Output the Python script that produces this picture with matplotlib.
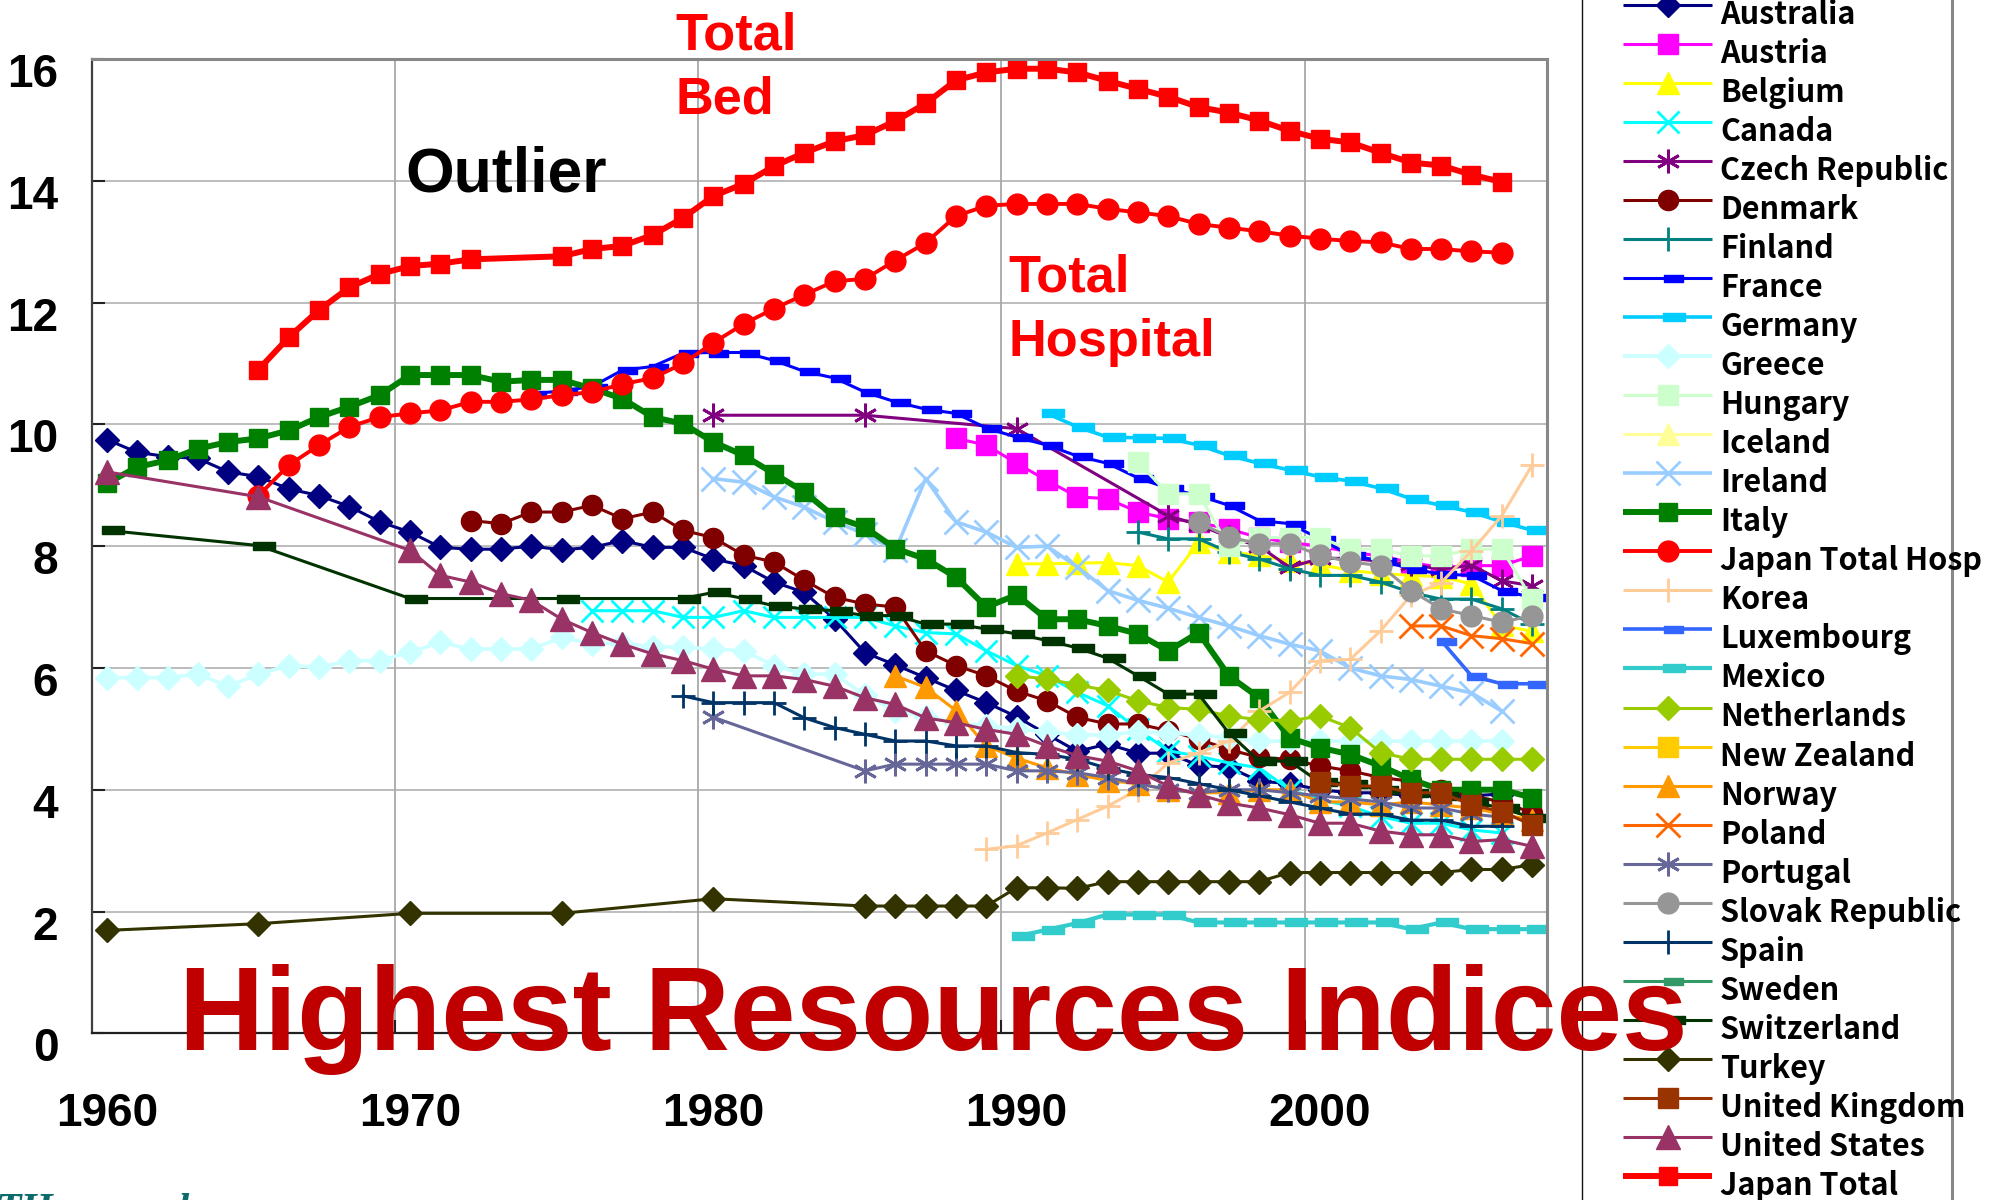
import matplotlib.pyplot as plt
import matplotlib.transforms as mtransforms
from matplotlib.patches import Rectangle

# hospital beds per 1000 population
australia_years = list(range(1960, 2007))
australia = [9.75, 9.54, 9.47, 9.44, 9.22, 9.14, 8.94, 8.83, 8.65, 8.40,
             8.23, 7.98, 7.95, 7.95, 8.00, 7.94, 7.98, 8.09, 7.98, 7.98,
             7.79, 7.68, 7.41, 7.24, 6.80, 6.25, 6.05, 5.84, 5.63, 5.43,
             5.20, 4.91, 4.63, 4.75, 4.60, 4.60, 4.40, 4.37, 4.14, 4.10,
             4.00, 3.95, 3.95, 3.90, 3.90, 3.90, 3.93]

austria_years = list(range(1988, 2008))
austria = [9.77, 9.66, 9.36, 9.08, 8.81, 8.78, 8.56, 8.45, 8.39, 8.28,
           8.14, 8.06, 8.00, 7.90, 7.84, 7.73, 7.65, 7.68, 7.68, 7.84]

belgium_years = list(range(1990, 2008))
belgium = [7.71, 7.71, 7.72, 7.73, 7.68, 7.41, 8.06, 7.90, 7.85, 7.75,
           7.70, 7.60, 7.55, 7.52, 7.50, 7.38, 6.70, 6.60]

canada_years = list(range(1976, 2007))
canada = [6.94, 6.94, 6.94, 6.83, 6.83, 6.94, 6.83, 6.83, 6.83, 6.83,
          6.69, 6.58, 6.56, 6.28, 6.04, 5.87, 5.60, 5.38, 4.99, 4.64,
          4.55, 4.44, 4.36, 4.00, 3.84, 3.73, 3.56, 3.45, 3.45, 3.34, 3.29]

czech_years = [1980, 1985, 1990] + list(range(1995, 2008))
czech = [10.15, 10.15, 9.93, 8.50, 8.35, 8.15, 8.00, 7.65, 7.80, 7.80,
         7.75, 7.70, 7.62, 7.69, 7.43, 7.35]

denmark_years = list(range(1972, 2008))
denmark = [8.42, 8.37, 8.56, 8.56, 8.67, 8.45, 8.56, 8.26, 8.14, 7.85,
           7.74, 7.44, 7.16, 7.05, 7.00, 6.28, 6.04, 5.87, 5.62, 5.46,
           5.19, 5.08, 5.08, 4.97, 4.83, 4.66, 4.53, 4.50, 4.39, 4.31,
           4.20, 4.14, 4.00, 3.90, 3.80, 3.62]

finland_years = list(range(1994, 2008))
finland = [8.23, 8.12, 8.12, 7.90, 7.79, 7.63, 7.52, 7.52, 7.41, 7.24,
           7.13, 7.13, 6.97, 6.72]

france_years = list(range(1974, 2008))
france = [10.50, 10.55, 10.62, 10.89, 10.95, 11.17, 11.18, 11.18, 11.05, 10.87,
          10.76, 10.53, 10.37, 10.25, 10.18, 9.94, 9.79, 9.66, 9.48, 9.36,
          9.12, 8.95, 8.83, 8.67, 8.42, 8.37, 8.12, 7.85, 7.76, 7.63,
          7.54, 7.52, 7.27, 7.16]

germany_years = list(range(1991, 2008))
germany = [10.18, 9.96, 9.79, 9.78, 9.77, 9.66, 9.49, 9.36, 9.25, 9.14,
           9.07, 8.95, 8.78, 8.67, 8.56, 8.40, 8.26]

greece_years = list(range(1960, 2007))
greece = [5.84, 5.84, 5.84, 5.90, 5.70, 5.90, 6.04, 6.01, 6.12, 6.12,
          6.26, 6.42, 6.31, 6.31, 6.31, 6.50, 6.40, 6.40, 6.35, 6.34,
          6.31, 6.28, 6.04, 5.90, 5.90, 5.55, 5.30, 5.20, 5.10, 5.05,
          5.00, 4.95, 4.90, 4.90, 4.95, 4.93, 4.90, 4.85, 4.80, 4.80,
          4.80, 4.80, 4.80, 4.80, 4.80, 4.80, 4.80]

hungary_years = list(range(1994, 2008))
hungary = [9.38, 8.86, 8.86, 8.00, 8.14, 8.14, 8.14, 7.95, 7.95, 7.84,
           7.84, 7.95, 7.95, 7.13]

ireland_years = list(range(1980, 2007))
ireland = [9.11, 9.05, 8.81, 8.64, 8.40, 8.20, 7.93, 9.11, 8.40, 8.23,
           7.98, 8.00, 7.66, 7.27, 7.11, 6.98, 6.83, 6.69, 6.53, 6.39,
           6.28, 6.00, 5.87, 5.81, 5.70, 5.59, 5.29]

italy_years = list(range(1960, 2008))
italy = [9.03, 9.30, 9.41, 9.60, 9.71, 9.77, 9.90, 10.12, 10.29, 10.48,
         10.81, 10.81, 10.81, 10.70, 10.73, 10.73, 10.59, 10.42, 10.12, 10.01,
         9.71, 9.49, 9.19, 8.89, 8.48, 8.31, 7.96, 7.79, 7.49, 7.00,
         7.20, 6.80, 6.80, 6.69, 6.56, 6.28, 6.58, 5.87, 5.51, 4.85,
         4.69, 4.58, 4.39, 4.17, 4.00, 4.00, 4.00, 3.87]

japan_hosp_years = list(range(1965, 2007))
japan_hosp = [8.83, 9.33, 9.66, 9.96, 10.12, 10.18, 10.23, 10.37, 10.37, 10.41,
              10.48, 10.53, 10.66, 10.76, 11.00, 11.34, 11.65, 11.90, 12.13, 12.35,
              12.39, 12.69, 12.98, 13.42, 13.59, 13.62, 13.62, 13.62, 13.54, 13.48,
              13.42, 13.29, 13.23, 13.17, 13.10, 13.05, 13.01, 12.99, 12.88, 12.88,
              12.84, 12.82]

korea_years = list(range(1989, 2008))
korea = [3.02, 3.08, 3.29, 3.51, 3.73, 4.00, 4.44, 4.60, 4.80, 5.29,
         5.60, 6.12, 6.14, 6.61, 7.19, 7.40, 7.92, 8.50, 9.33]

luxembourg_years = [2004, 2005, 2006, 2007]
luxembourg = [6.45, 5.87, 5.74, 5.74]

mexico_years = list(range(1990, 2008))
mexico = [1.59, 1.70, 1.81, 1.95, 1.95, 1.95, 1.82, 1.82, 1.82, 1.82,
          1.82, 1.82, 1.82, 1.71, 1.82, 1.71, 1.71, 1.71]

netherlands_years = list(range(1990, 2008))
netherlands = [5.87, 5.82, 5.72, 5.63, 5.46, 5.35, 5.32, 5.21, 5.15, 5.13,
               5.21, 5.02, 4.61, 4.50, 4.50, 4.50, 4.50, 4.50]

norway_years = list(range(1986, 2008))
norway = [5.87, 5.68, 5.30, 4.72, 4.52, 4.36, 4.25, 4.15, 4.10, 4.00,
          3.95, 3.95, 4.00, 4.00, 3.80, 3.80, 3.75, 3.80, 3.75, 3.70,
          3.60, 3.50]

poland_years = [2003, 2004, 2005, 2006, 2007]
poland = [6.69, 6.69, 6.53, 6.48, 6.40]

portugal_years = [1980] + list(range(1985, 2007))
portugal = [5.19, 4.31, 4.42, 4.42, 4.42, 4.42, 4.31, 4.31, 4.28, 4.20,
            4.10, 4.00, 3.95, 4.00, 4.00, 3.95, 3.90, 3.85, 3.80, 3.70,
            3.70, 3.60, 3.55]

slovak_years = list(range(1996, 2008))
slovak = [8.39, 8.15, 8.04, 8.04, 7.85, 7.74, 7.68, 7.27, 6.97, 6.86,
          6.75, 6.86]

spain_years = list(range(1979, 2007))
spain = [5.54, 5.43, 5.43, 5.43, 5.18, 5.02, 4.91, 4.80, 4.80, 4.72,
         4.72, 4.61, 4.58, 4.50, 4.35, 4.25, 4.20, 4.10, 4.00, 3.90,
         3.80, 3.70, 3.60, 3.60, 3.50, 3.50, 3.40, 3.40]

switzerland_years = [1960, 1965, 1970, 1975] + list(range(1979, 2008))
switzerland = [8.26, 8.01, 7.14, 7.14,
               7.14, 7.24, 7.14, 7.02, 6.97, 6.94, 6.86, 6.86, 6.72, 6.72,
               6.64, 6.56, 6.45, 6.33, 6.16, 5.87, 5.57, 5.57, 4.93, 4.47,
               4.47, 4.12, 4.10, 4.00, 3.95, 3.90, 3.80, 3.70, 3.54]

turkey_years = [1960, 1965, 1970, 1975, 1980] + list(range(1985, 2008))
turkey = [1.69, 1.80, 1.97, 1.97, 2.21,
          2.09, 2.09, 2.09, 2.09, 2.09, 2.39, 2.39, 2.38, 2.49, 2.49,
          2.49, 2.49, 2.49, 2.49, 2.64, 2.64, 2.64, 2.64, 2.64, 2.64,
          2.69, 2.69, 2.77]

uk_years = list(range(2000, 2008))
uk = [4.12, 4.06, 4.06, 3.95, 3.95, 3.75, 3.64, 3.42]

us_years = [1960, 1965] + list(range(1970, 2008))
us = [9.22, 8.81,
      7.93, 7.52, 7.41, 7.22, 7.11, 6.80, 6.58, 6.39, 6.23, 6.12,
      5.98, 5.87, 5.87, 5.81, 5.70, 5.51, 5.40, 5.18, 5.10, 4.99,
      4.91, 4.72, 4.56, 4.47, 4.31, 4.06, 3.92, 3.78, 3.70, 3.59,
      3.45, 3.45, 3.32, 3.26, 3.26, 3.15, 3.18, 3.07]

japan_total_years = list(range(1965, 1973)) + list(range(1975, 2007))
japan_total = [10.90, 11.43, 11.88, 12.25, 12.47, 12.60, 12.64, 12.71,
               12.76, 12.88, 12.93, 13.11, 13.39, 13.75, 13.95, 14.24, 14.46, 14.65,
               14.75, 14.98, 15.27, 15.65, 15.78, 15.84, 15.84, 15.78, 15.64, 15.51,
               15.38, 15.21, 15.12, 14.99, 14.82, 14.69, 14.63, 14.46, 14.30, 14.25,
               14.10, 13.98]

# Excel style dash marker (short bar)
dash = [(-0.3, -0.24), (1.0, -0.24), (1.0, 0.24), (-0.3, 0.24), (-0.3, -0.24)]
aster = (6, 2, 0)

# name, years, values, colour, marker, markersize, linewidth
series = [
    ("Australia", australia_years, australia, "#000080", "D", 12.5, 2.2),
    ("Austria", austria_years, austria, "#FF00FF", "s", 14.5, 2.2),
    ("Belgium", belgium_years, belgium, "#FFFF00", "^", 16.5, 2.2),
    ("Canada", canada_years, canada, "#00FFFF", "x", 16, 2.2),
    ("Czech Republic", czech_years, czech, "#800080", aster, 17, 2.2),
    ("Denmark", denmark_years, denmark, "#800000", "o", 14.5, 2.2),
    ("Finland", finland_years, finland, "#008080", "+", 17, 2.2),
    ("France", france_years, france, "#0000FF", dash, 21, 2.2),
    ("Germany", germany_years, germany, "#00CCFF", dash, 24, 2.6),
    ("Greece", greece_years, greece, "#CCFFFF", "D", 12.5, 2.6),
    ("Hungary", hungary_years, hungary, "#CCFFCC", "s", 14.5, 2.2),
    ("Iceland", [], [], "#FFFF99", "^", 16.5, 2.2),
    ("Ireland", ireland_years, ireland, "#99CCFF", "x", 17, 2.6),
    ("Italy", italy_years, italy, "#008000", "s", 13.5, 4.3),
    ("Japan Total Hosp", japan_hosp_years, japan_hosp, "#FF0000", "o", 15, 2.8),
    ("Korea", korea_years, korea, "#FFCC99", "+", 17, 2.2),
    ("Luxembourg", luxembourg_years, luxembourg, "#3366FF", dash, 21, 2.6),
    ("Mexico", mexico_years, mexico, "#33CCCC", dash, 24, 3.0),
    ("Netherlands", netherlands_years, netherlands, "#99CC00", "D", 12.5, 2.2),
    ("New Zealand", [], [], "#FFCC00", "s", 14.5, 2.2),
    ("Norway", norway_years, norway, "#FF9900", "^", 16.5, 2.2),
    ("Poland", poland_years, poland, "#FF6600", "x", 17, 2.2),
    ("Portugal", portugal_years, portugal, "#666699", aster, 17, 2.2),
    ("Slovak Republic", slovak_years, slovak, "#969696", "o", 15, 2.2),
    ("Spain", spain_years, spain, "#003366", "+", 17, 2.2),
    ("Sweden", [], [], "#339966", dash, 21, 2.2),
    ("Switzerland", switzerland_years, switzerland, "#003300", dash, 24, 2.2),
    ("Turkey", turkey_years, turkey, "#333300", "D", 12.5, 2.2),
    ("United Kingdom", uk_years, uk, "#993300", "s", 15, 2.2),
    ("United States", us_years, us, "#993366", "^", 17, 2.2),
    ("Japan Total", japan_total_years, japan_total, "#FF0000", "s", 13, 4.3),
]

line_markers = ("x", "+")


def edge_width(mk):
    if mk == aster or (isinstance(mk, str) and mk in line_markers):
        return 2.0
    return 1.0


W, H = 1994, 1200
fig = plt.figure(figsize=(W / 100, H / 100), dpi=100)
ax = fig.add_axes([91.7 / W, 1 - 1033.3 / H, (1547.3 - 91.7) / W, (1033.3 - 59) / H])

for name, yrs, vals, col, mk, ms, lw in series:
    if not yrs:
        continue
    ax.plot(yrs, vals, color=col, lw=lw, marker=mk, ms=ms, mfc=col, mec=col,
            mew=edge_width(mk), solid_joinstyle="round")

ax.set_xlim(1959.5, 2007.5)
ax.set_ylim(0, 16)
ax.set_xticks([1960, 1970, 1980, 1990, 2000])
ax.set_xticks([1969.5, 1979.5, 1989.5, 1999.5], minor=True)
ax.set_yticks(range(0, 17, 2))
ax.tick_params(axis="x", which="major", length=0, pad=42)
ax.tick_params(axis="x", which="minor", direction="in", length=9.5, width=1.5, color="#222222")
ax.tick_params(axis="y", direction="in", length=9.5, width=1.5, color="#222222", pad=24)
for lbl in ax.get_xticklabels() + ax.get_yticklabels():
    lbl.set_family("Liberation Sans")
    lbl.set_fontweight("bold")
    lbl.set_fontsize(33)
shift = mtransforms.ScaledTranslation(0, -8 / 72, fig.dpi_scale_trans)
for lbl in ax.get_yticklabels():
    lbl.set_transform(lbl.get_transform() + shift)

ax.grid(axis="x", which="minor", color="#999999", lw=1.1)
ax.grid(axis="y", which="major", color="#aaaaaa", lw=1.1)
ax.set_axisbelow(True)
ax.spines["left"].set_color("#404040")
ax.spines["left"].set_linewidth(1.6)
ax.spines["bottom"].set_color("#202020")
ax.spines["bottom"].set_linewidth(1.6)
for s in ("top", "right"):
    ax.spines[s].set_color("#888888")
    ax.spines[s].set_linewidth(2.2)

# overlay in figure pixels for the legend and annotations
ov = fig.add_axes([0, 0, 1, 1], zorder=5)
ov.set_xlim(0, W)
ov.set_ylim(H, 0)
ov.axis("off")
ov.patch.set_alpha(0)

ov.add_patch(Rectangle((1582, -20), 370, H + 40, facecolor="white", edgecolor="none"))
ov.plot([1582, 1582], [-20, H + 20], color="#111111", lw=1.0)
ov.plot([1952, 1952], [-20, H + 20], color="#888888", lw=2.2)

for i, (name, yrs, vals, col, mk, ms, lw) in enumerate(series):
    yl = 4.6 + 39.05 * i
    ov.plot([1623, 1712], [yl, yl], color=col, lw=lw, solid_capstyle="butt")
    ov.plot([1667.5], [yl], marker=mk, ms=ms, color=col, mfc=col, mec=col,
            mew=edge_width(mk))
    ov.text(1720, yl + 19, name, fontsize=22, fontweight="bold",
            family=["Noto Sans CJK JP", "DejaVu Sans"], va="baseline", ha="left")

red_kw = dict(color="#FF0000", fontsize=37.7, fontweight="bold", family="Liberation Sans",
              va="baseline", ha="left")
ov.text(675, 49, "Total", **red_kw)
ov.text(675, 113, "Bed", **red_kw)
ov.text(1008, 291, "Total", **red_kw)
ov.text(1008, 356, "Hospital", **red_kw)
ov.text(405, 191, "Outlier", color="black", fontsize=45, fontweight="bold",
        family="Liberation Sans", va="baseline", ha="left")
ov.text(179, 1050, "Highest Resources Indices", color="#C00000", fontsize=85,
        fontweight="bold", family="Liberation Sans", va="baseline", ha="left", zorder=10)
ov.text(-4, 1222, "THresearch", color="#0E6B6B", fontsize=30, style="italic",
        fontweight="bold", family="Liberation Serif", va="baseline", ha="left")

fig.savefig("out.png", dpi=100)
